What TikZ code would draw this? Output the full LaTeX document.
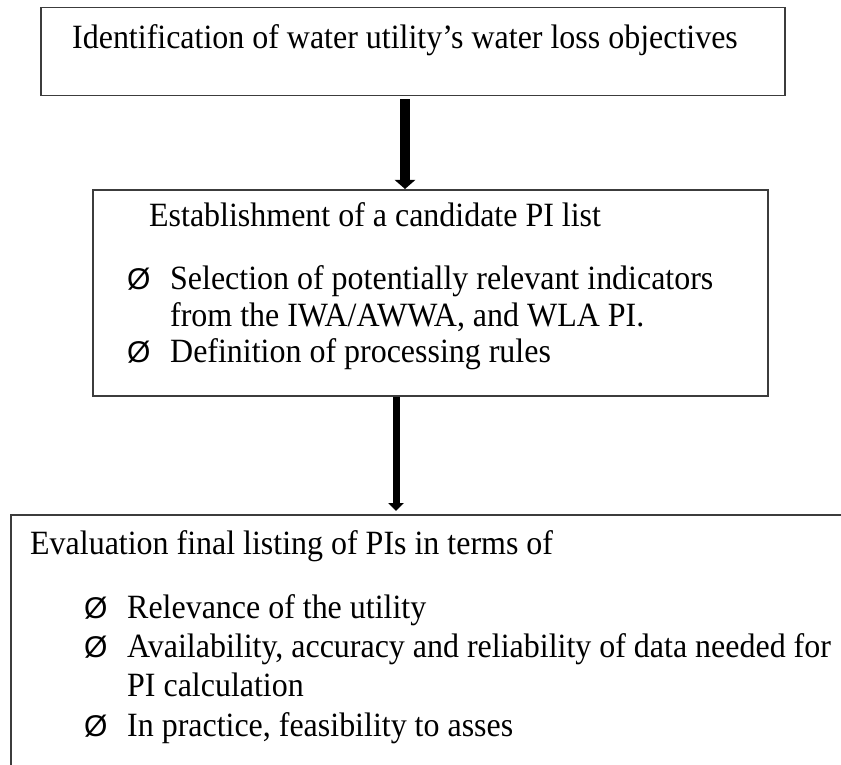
\documentclass[tikz,border=0pt]{standalone}
\usepackage{fontspec}
\setmainfont{Liberation Serif}[FakeStretch=0.94]
\newfontfamily\bulletfont{Liberation Sans}
\usetikzlibrary{arrows.meta}
\definecolor{edge}{HTML}{3C3C3C}
\tikzset{
  box/.style={draw=edge, line width=1.5pt, inner sep=0pt, anchor=north west},
  txt/.style={anchor=base west, inner sep=0pt, font=\fontsize{34}{40}\selectfont},
  bulletmark/.style={anchor=base west, inner sep=0pt, font=\bulletfont\fontsize{30}{36}\selectfont},
  flowthick/.style={line width=10pt, -{Triangle[width=20pt,length=9pt]}, shorten <=3pt},
  flowthin/.style={line width=7pt, -{Triangle[width=15pt,length=8pt]}, shorten >=3pt},
}
\begin{document}
\begin{tikzpicture}[x=1pt, y=-1pt]
\useasboundingbox (0,0) rectangle (841,765);
\clip (0,0) rectangle (841,765);
\fill[white] (0,0) rectangle (841,765);

% boxes
\node[box, minimum width=744pt, minimum height=88pt] (obj) at (40,7) {};
\node[box, minimum width=675pt, minimum height=206pt] (cand) at (92,189) {};
\node[box, minimum width=900pt, minimum height=320pt] (eval) at (10,514) {};

% first box
\node[txt] (t1) at (72,49) {Identification of water utility’s water loss objectives};

% second box
\node[txt] (t2) at (149,226) {Establishment of a candidate PI list};
\node[bulletmark] (b21) at (127,289) {Ø};
\node[txt] (t21) at (170,289) {Selection of potentially relevant indicators};
\node[txt] (t22) at (170,326) {from the IWA/AWWA, and WLA PI.};
\node[bulletmark] (b22) at (127,362) {Ø};
\node[txt] (t23) at (170,362) {Definition of processing rules};

% third box
\node[txt] (t3) at (30,554) {Evaluation final listing of PIs in terms of};
\node[bulletmark] (b31) at (84,618) {Ø};
\node[txt] (t31) at (127,618) {Relevance of the utility};
\node[bulletmark] (b32) at (84,657) {Ø};
\node[txt] (t32) at (127,657) {Availability, accuracy and reliability of data needed for};
\node[txt] (t33) at (127,696) {PI calculation};
\node[bulletmark] (b33) at (84,736) {Ø};
\node[txt] (t34) at (127,736) {In practice, feasibility to asses};

% connectors
\coordinate (a1) at (405,0);
\coordinate (a2) at (396,0);
\draw[flowthick] (a1 |- obj.south) -- (a1 |- cand.north);
\draw[flowthin] (a2 |- cand.south) -- (a2 |- eval.north);
\end{tikzpicture}
\end{document}
